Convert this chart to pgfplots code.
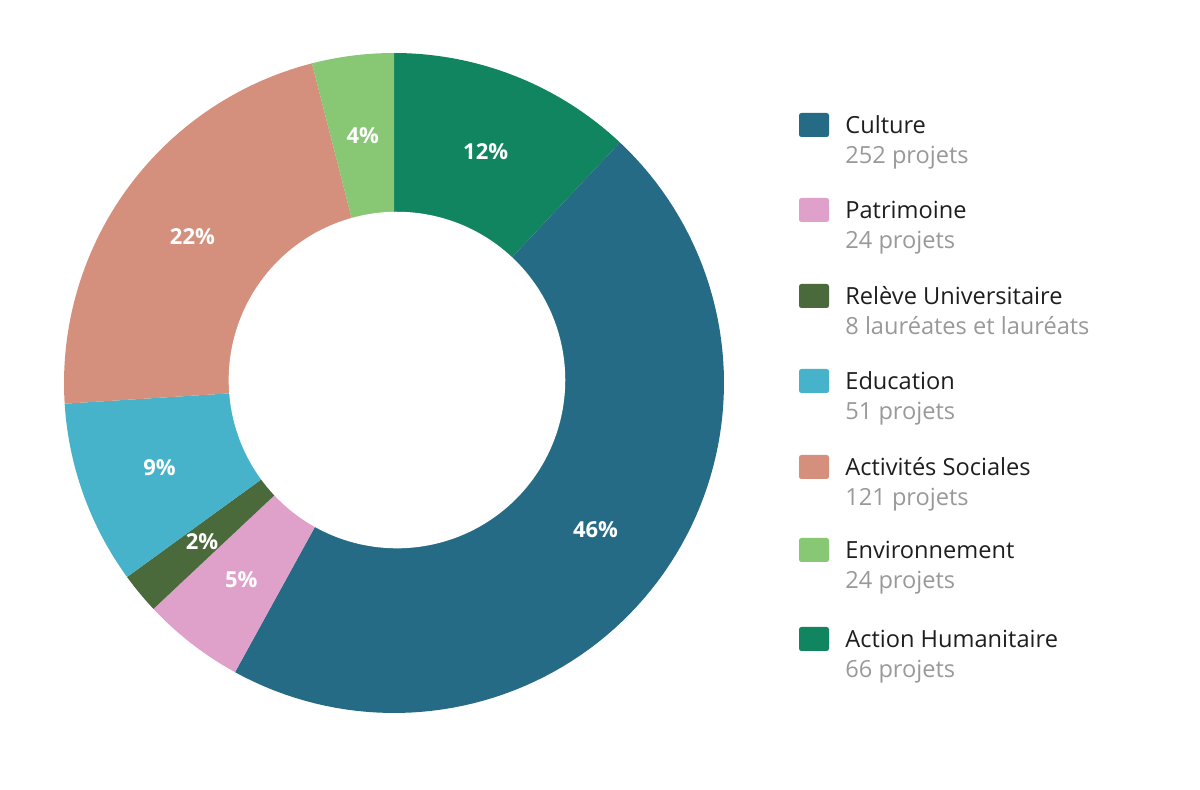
\documentclass[border=0pt]{standalone}
\usepackage{pgfplots}
\pgfplotsset{compat=1.18}
\usepackage{pgfplotstable}
\usepackage{fontspec}
\setmainfont{Open Sans}
\definecolor{cCult}{RGB}{38,107,133}
\definecolor{cPatr}{RGB}{223,160,201}
\definecolor{cRele}{RGB}{74,106,60}
\definecolor{cEduc}{RGB}{70,179,203}
\definecolor{cActi}{RGB}{212,144,124}
\definecolor{cEnvi}{RGB}{136,199,116}
\definecolor{cHuma}{RGB}{17,133,96}
\definecolor{txtdark}{RGB}{30,30,30}
\definecolor{txtgray}{RGB}{153,153,153}

% share of each domain (percent), clockwise from 12 o'clock; start = cumulative percent
\pgfplotstableread{
name        start pct count
Humanitaire 0     12  66
Culture     12    46  252
Patrimoine  58    5   24
Releve      63    2   8
Education   65    9   51
Sociales    74    22  121
Environ     96    4   24
}\donutdata

\newcommand\slice[3]{%
  \addplot[fill=#1, draw=none, domain={90-3.6*(#2+#3)}:{90-3.6*(#2)}, samples=90, variable=\t, forget plot]
    ({cos(\t)},{sin(\t)}) -- (axis cs:0,0) -- cycle;
  \node[text=white, font=\bfseries\fontsize{11}{12}\selectfont]
    at (axis cs:{0.755*cos(90-3.6*(#2+#3/2))},{0.755*sin(90-3.6*(#2+#3/2))}) {#3\%};
}

\begin{document}
\begin{tikzpicture}[x=0.5pt,y=-0.5pt]
\path[use as bounding box] (0,0) rectangle (1200,790);
\begin{axis}[
  scale only axis, width=330pt, height=330pt,
  xmin=-1, xmax=1, ymin=-1, ymax=1,
  hide axis, clip=false,
  anchor=center, at={(197pt,-191.5pt)},
]
\slice{cHuma}{0}{12}
\slice{cCult}{12}{46}
\slice{cPatr}{58}{5}
\slice{cRele}{63}{2}
\slice{cEduc}{65}{9}
\slice{cActi}{74}{22}
\slice{cEnvi}{96}{4}
\addplot[fill=white, draw=none, domain=0:360, samples=180, variable=\t, forget plot]
  ({0.51*cos(\t)+0.009},{0.51*sin(\t)+0.009}) -- cycle;
\end{axis}
\foreach \y/\c/\n/\s in {
  125/cCult/Culture/252 projets,
  210/cPatr/Patrimoine/24 projets,
  296/cRele/Relève Universitaire/8 lauréates et lauréats,
  381/cEduc/Education/51 projets,
  467/cActi/Activités Sociales/121 projets,
  550/cEnvi/Environnement/24 projets,
  639/cHuma/Action Humanitaire/66 projets} {
  \fill[\c, rounded corners=1.2pt] (799,\y-12) rectangle (829,\y+12);
  \node[anchor=base west, inner sep=0pt, text=txtdark, font=\fontsize{11.8}{13}\selectfont] at (845,\y+9) {\n};
  \node[anchor=base west, inner sep=0pt, text=txtgray, font=\fontsize{11.8}{13}\selectfont] at (845,\y+39) {\s};
}
\end{tikzpicture}
\end{document}
